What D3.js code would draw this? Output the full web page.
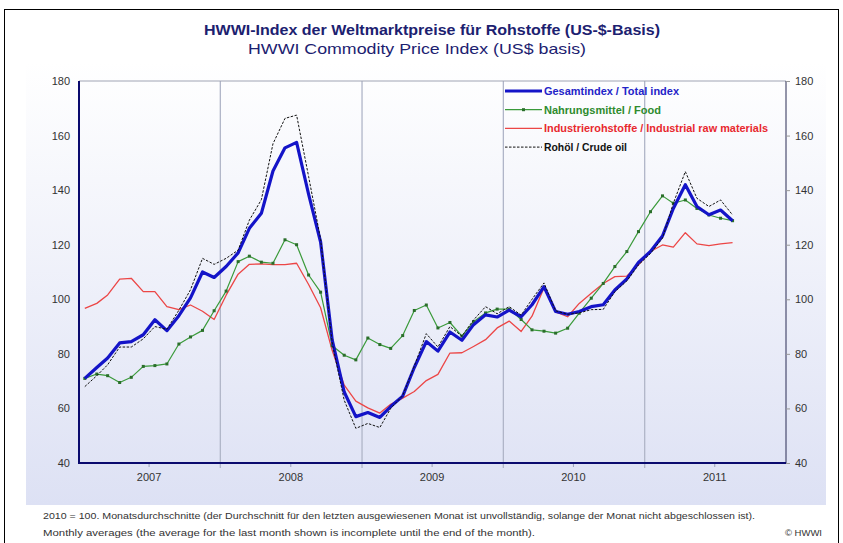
<!DOCTYPE html>
<html>
<head>
<meta charset="utf-8">
<script src="https://cdn.jsdelivr.net/npm/d3@7"></script>
<style>
  body { margin: 0; background: #fff; }
  svg { display: block; }
  text { font-family: "Liberation Sans Narrow", "Liberation Sans", Arial, sans-serif; }
</style>
</head>
<body>
<div class="plot"></div>
<script>
// Data: monthly values, Jan 2007 - Aug 2011 (2010 = 100)
const years = ["2007", "2008", "2009", "2010", "2011"];
const yTicks = [40, 60, 80, 100, 120, 140, 160, 180];

const totalIndex = [
  71, 75, 78.5, 84, 84.5, 87, 92.5, 88.5, 94, 100.5, 110, 108,
  112, 117, 126, 131.5, 147, 155.5, 157.5, 138.5, 121, 85, 66, 57,
  58.5, 56.7, 60.7, 64.5, 75, 84.5, 81, 88, 85, 90.7, 94.3, 93.5,
  96, 93.6, 98, 104.6, 95.5, 94.5, 95.5, 97.3, 98, 103.4, 107.5, 113.5,
  117.5, 123.2, 133.3, 142, 134, 131, 132.7, 128.8
];
const food = [
  71, 72.6, 72, 69.5, 71.4, 75.4, 75.7, 76.3, 83.6, 86.2, 88.6, 95.8,
  103, 113.8, 115.8, 113.6, 113.2, 121.8, 120, 108.9, 102.6, 83, 79.5, 77.8,
  85.8, 83.4, 82, 86.7, 95.9, 97.9, 89.5, 91.5, 86.5, 91.8, 95, 96.4,
  96.4, 92.6, 88.8, 88.3, 87.6, 89.4, 94.9, 100.4, 105.8, 112, 117.5, 124.8,
  132.1, 137.9, 135.2, 136.4, 133.3, 130.9, 129.7, 128.8
];
const industrial = [
  96.7, 98.5, 101.6, 107.4, 107.7, 102.8, 102.8, 97.3, 96.2, 97.9, 95.6, 92.6,
  101.5, 109.2, 112.8, 113, 112.7, 112.7, 113.2, 105.4, 96.9, 81.2, 68.5, 62.7,
  60.2, 58.3, 61.5, 63.8, 66.2, 70.2, 72.5, 80.3, 80.4, 82.7, 85.2, 89.5,
  92, 88.2, 93.8, 104.2, 95.4, 93.6, 98.5, 102.2, 105.8, 108.3, 108.5, 112.6,
  117.5, 119.9, 119.1, 124.4, 120.3, 119.7, 120.3, 120.8
];
const crudeOil = [
  68, 72, 76, 82.5, 82.5, 85.5, 90, 89, 96, 103.5, 115, 112.8,
  115, 118, 129, 136.5, 157, 166.3, 167.5, 145, 122, 84, 63, 52.7,
  54.5, 53, 60, 64.7, 75.5, 87.4, 82.5, 90, 86.5, 92.4, 97.3, 94.7,
  97.3, 94.2, 100, 106, 95.8, 94.5, 95, 96.2, 96.3, 102.8, 106.7, 112.6,
  116.8, 122.4, 135.2, 146.8, 137, 134, 136.4, 130.9
];

const series = [
  {name: "Industrierohstoffe / Industrial raw materials", values: industrial, color: "#ec4646", width: 1.3, text: "#e8282e", tl: 224},
  {name: "Nahrungsmittel / Food", values: food, color: "#3a9a3a", width: 1.2, text: "#2e8b2e", markers: true, tl: 117},
  {name: "Gesamtindex / Total index", values: totalIndex, color: "#1414c8", width: 3.2, text: "#2323c8", tl: 135},
  {name: "Rohöl / Crude oil", values: crudeOil, color: "#111", width: 1, text: "#111", dash: "2.5,1.5", tl: 83}
];
const legendOrder = [2, 1, 0, 3];

const W = 843, H = 543;
const pLeft = 79, pRight = 786, pTop = 81, pBottom = 463;

const svg = d3.select(".plot").append("svg")
    .attr("width", W)
    .attr("height", H);

// background gradient
const defs = svg.append("defs");
const grad = defs.append("linearGradient")
    .attr("id", "bg").attr("x1", 0).attr("y1", 0).attr("x2", 0).attr("y2", 1);
grad.append("stop").attr("offset", "0%").attr("stop-color", "#ffffff");
grad.append("stop").attr("offset", "100%").attr("stop-color", "#dde1f4");

svg.append("rect")
    .attr("x", 4.5).attr("y", 9.5)
    .attr("width", 834).attr("height", 545)
    .attr("fill", "#fff").attr("stroke", "#000").attr("stroke-width", 1);

svg.append("rect")
    .attr("x", 26).attr("y", 62)
    .attr("width", 800).attr("height", 443)
    .attr("fill", "url(#bg)");

// titles
svg.append("text")
    .attr("x", 432).attr("y", 35)
    .attr("text-anchor", "middle")
    .attr("fill", "#1c2170")
    .style("font-size", "15px").style("font-weight", "bold")
    .attr("textLength", 456).attr("lengthAdjust", "spacingAndGlyphs")
    .text("HWWI-Index der Weltmarktpreise für Rohstoffe  (US-$-Basis)");
svg.append("text")
    .attr("x", 417).attr("y", 54)
    .attr("text-anchor", "middle")
    .attr("fill", "#1c2170")
    .style("font-size", "15px")
    .attr("textLength", 338).attr("lengthAdjust", "spacingAndGlyphs")
    .text("HWWI Commodity Price Index  (US$ basis)");

// scales
const x = d3.scaleTime()
    .domain([new Date(2007, 0, 1), new Date(2012, 0, 1)])
    .range([pLeft, pRight]);
const y = d3.scaleLinear()
    .domain([40, 180])
    .range([pBottom, pTop]);
const monthDate = i => new Date(2007, i, 16);

// year separators
const g = svg.append("g");
g.selectAll(".sep")
    .data(years.slice(1))
    .enter().append("line")
        .attr("x1", d => x(new Date(+d, 0, 1)))
        .attr("x2", d => x(new Date(+d, 0, 1)))
        .attr("y1", pTop).attr("y2", pBottom + 5)
        .attr("stroke", "#b0b5c8").attr("stroke-width", 1.3);

// minor ticks at year centres
g.selectAll(".mt")
    .data(years)
    .enter().append("line")
        .attr("x1", d => x(new Date(+d, 6, 1)))
        .attr("x2", d => x(new Date(+d, 6, 1)))
        .attr("y1", pBottom).attr("y2", pBottom + 4)
        .attr("stroke", "#9aa0b8").attr("stroke-width", 1);

// frame lines
g.append("line").attr("x1", pLeft).attr("x2", pRight).attr("y1", pTop).attr("y2", pTop)
    .attr("stroke", "#a0a4b4").attr("stroke-width", 1);
g.append("line").attr("x1", pRight).attr("x2", pRight).attr("y1", pTop).attr("y2", pBottom)
    .attr("stroke", "#2a2d55").attr("stroke-width", 1);

// y axes
const yLeft = d3.axisLeft(y).tickValues(yTicks).tickSize(0).tickPadding(9);
svg.append("g")
    .attr("transform", `translate(${pLeft},0)`)
    .call(yLeft)
    .call(a => a.select(".domain").remove())
    .selectAll("text")
        .style("font-size", "11px").attr("fill", "#333");

const yRight = d3.axisRight(y).tickValues(yTicks).tickSize(4).tickPadding(5);
svg.append("g")
    .attr("transform", `translate(${pRight},0)`)
    .call(yRight)
    .call(a => a.select(".domain").remove())
    .call(a => a.selectAll("line").attr("stroke", "#999"))
    .selectAll("text")
        .style("font-size", "11px").attr("fill", "#333");

// left + bottom axis lines
g.append("line").attr("x1", pLeft).attr("x2", pLeft).attr("y1", pTop).attr("y2", pBottom)
    .attr("stroke", "#0a0a6e").attr("stroke-width", 2);
g.append("line").attr("x1", pLeft - 1).attr("x2", pRight).attr("y1", pBottom).attr("y2", pBottom)
    .attr("stroke", "#0a0a6e").attr("stroke-width", 2);

// year labels
svg.selectAll(".yr")
    .data(years)
    .enter().append("text")
        .attr("x", d => x(new Date(+d, 6, 1)))
        .attr("y", 481)
        .attr("text-anchor", "middle")
        .attr("fill", "#333")
        .style("font-size", "11px")
        .text(d => d);

// lines
const line = d3.line()
    .x((d, i) => x(monthDate(i)))
    .y(d => y(d));

series.forEach(s => {
    svg.append("path")
        .datum(s.values)
        .attr("d", line)
        .attr("fill", "none")
        .attr("stroke", s.color)
        .attr("stroke-width", s.width)
        .attr("stroke-linejoin", "round")
        .attr("stroke-dasharray", s.dash || null);
    if (s.markers) {
        svg.selectAll(null)
            .data(s.values)
            .enter().append("rect")
                .attr("x", (d, i) => x(monthDate(i)) - 1.5)
                .attr("y", d => y(d) - 1.5)
                .attr("width", 3).attr("height", 3)
                .attr("fill", "#2a6e2a");
    }
});

// legend
const legend = svg.append("g");
legendOrder.forEach((k, j) => {
    const s = series[k];
    const ly = 91 + j * 18.7;
    legend.append("line")
        .attr("x1", 505).attr("x2", 542).attr("y1", ly).attr("y2", ly)
        .attr("stroke", s.color)
        .attr("stroke-width", s.width)
        .attr("stroke-dasharray", s.dash || null);
    if (s.markers) {
        legend.append("rect").attr("x", 522).attr("y", ly - 1.5)
            .attr("width", 3).attr("height", 3).attr("fill", "#2a6e2a");
    }
    legend.append("text")
        .attr("x", 544).attr("y", ly + 4)
        .attr("fill", s.text)
        .style("font-size", "11px").style("font-weight", "bold")
        .attr("textLength", s.tl).attr("lengthAdjust", "spacingAndGlyphs")
        .text(s.name);
});

// footer
svg.append("text")
    .attr("x", 43).attr("y", 519)
    .attr("fill", "#333")
    .style("font-size", "9.5px")
    .attr("textLength", 712).attr("lengthAdjust", "spacingAndGlyphs")
    .text("2010 = 100. Monatsdurchschnitte (der Durchschnitt für den letzten ausgewiesenen Monat ist unvollständig, solange der Monat nicht abgeschlossen ist).");
svg.append("text")
    .attr("x", 43).attr("y", 536)
    .attr("fill", "#333")
    .style("font-size", "9.5px")
    .attr("textLength", 492).attr("lengthAdjust", "spacingAndGlyphs")
    .text("Monthly averages (the average for the last month shown is incomplete until the end of the month).");
svg.append("text")
    .attr("x", 822).attr("y", 536)
    .attr("text-anchor", "end")
    .attr("fill", "#333")
    .style("font-size", "9.5px")
    .text("© HWWI");
</script>
</body>
</html>
